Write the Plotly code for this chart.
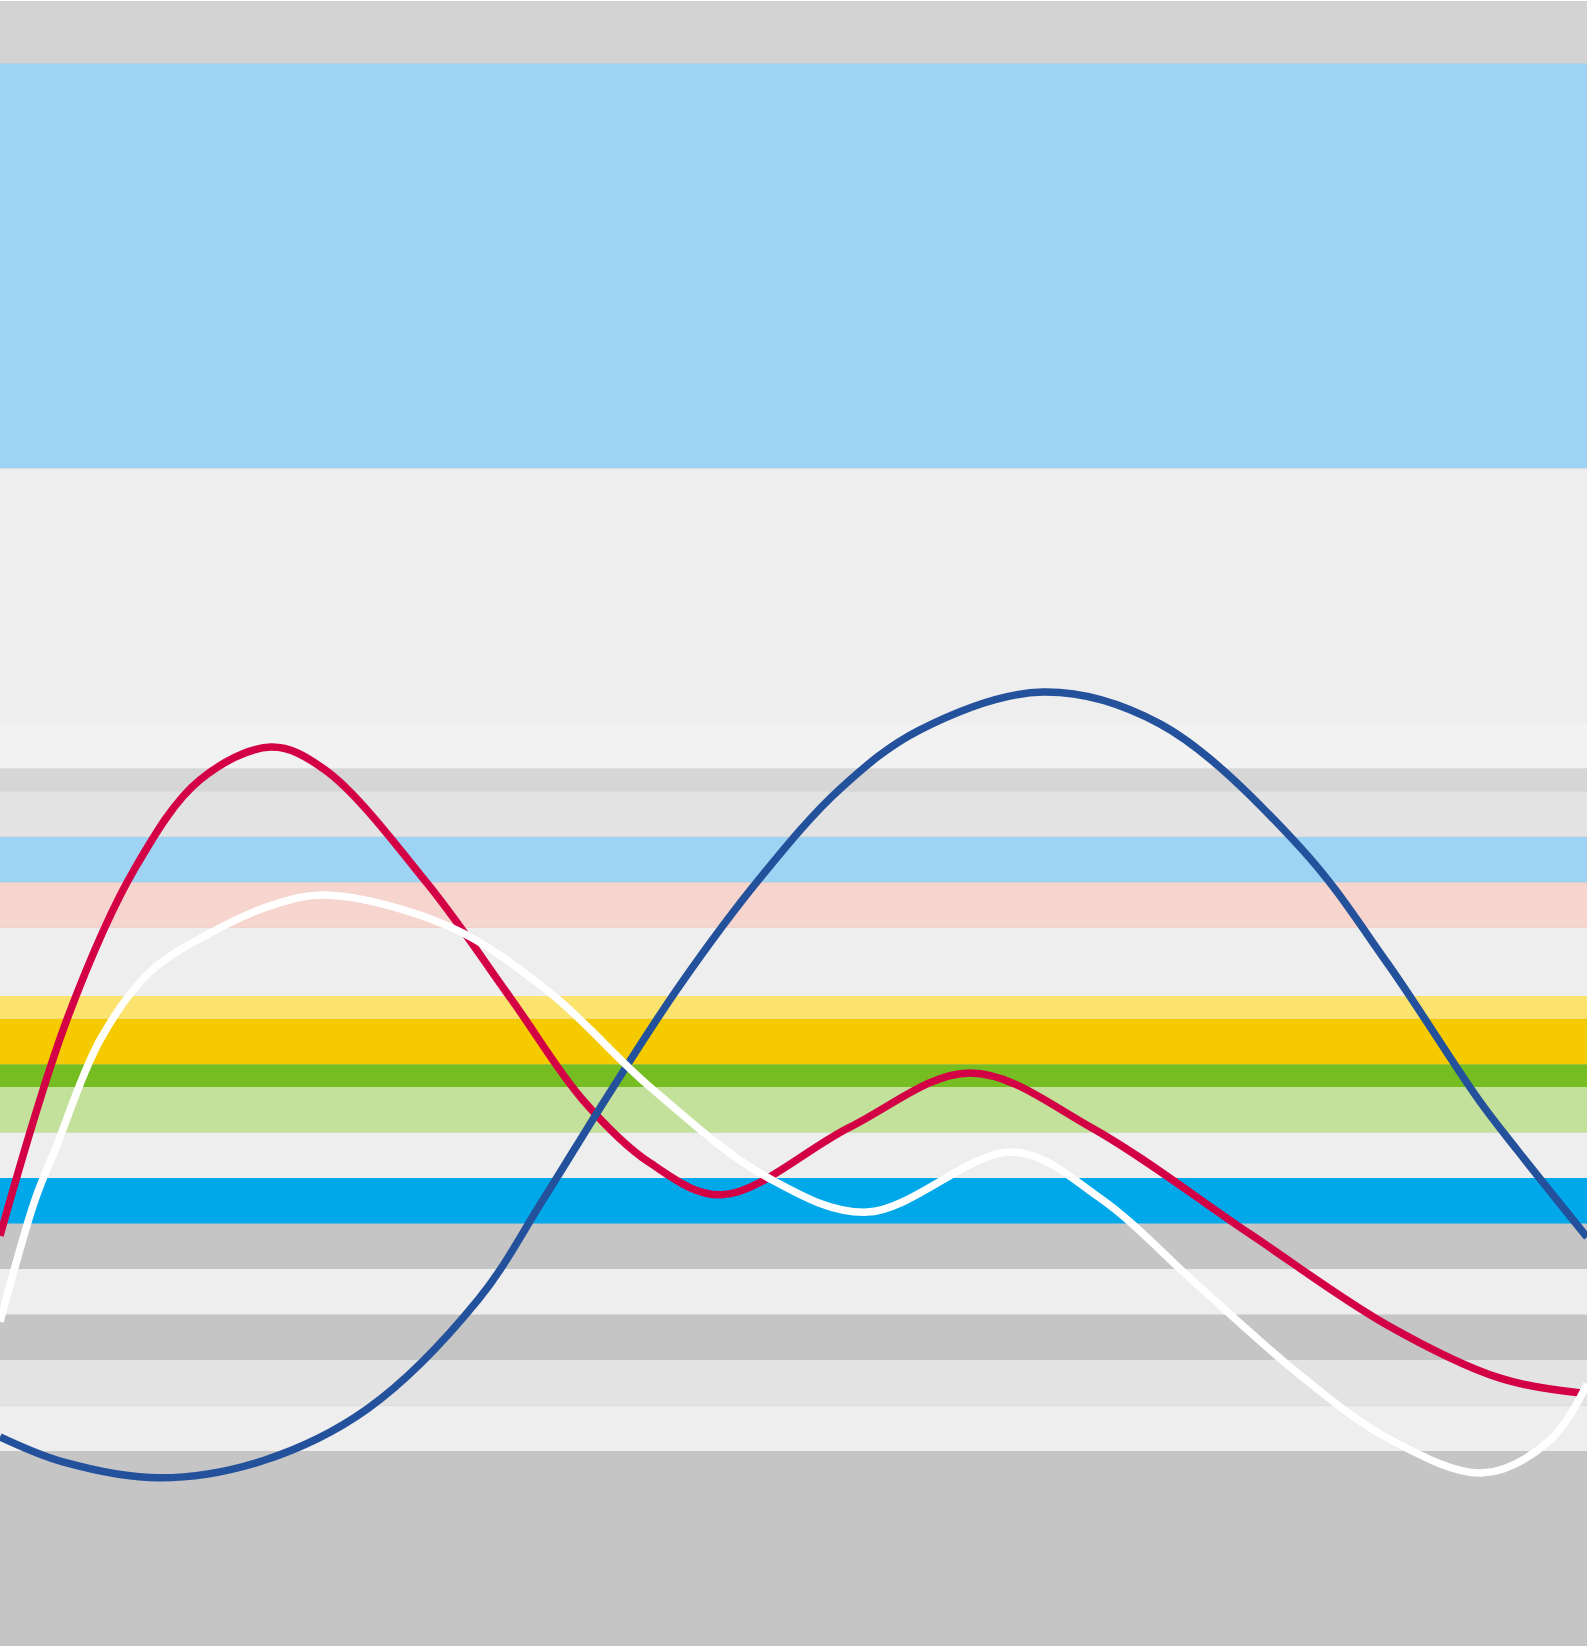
import plotly.graph_objects as go

# ---- data ----
red_x = [0.00, 4.28, 8.51, 12.60, 17.08, 20.48, 26.91, 32.26, 36.74, 40.96, 45.49,
         53.56, 61.12, 68.81, 78.76, 87.40, 94.52, 99.75]
red_y = [4.73, 9.54, 12.81, 14.75, 15.47, 14.97, 12.48, 9.91, 7.71, 6.33, 5.63,
         7.12, 8.31, 7.10, 4.77, 2.77, 1.60, 1.27]

blue_x = [0.00, 3.97, 10.08, 16.51, 23.13, 30.12, 34.22, 38.12, 42.85, 47.89, 52.93,
          57.97, 65.72, 73.09, 81.92, 87.40, 93.19, 95.59, 100.0]
blue_y = [0.31, -0.24, -0.59, -0.22, 0.92, 3.32, 5.52, 7.71, 10.24, 12.59, 14.55,
          15.85, 16.68, 15.98, 13.27, 10.73, 7.71, 6.62, 4.70]

white_x = [0.00, 2.21, 3.47, 6.30, 9.45, 13.23, 17.01, 20.60, 28.36, 34.66, 40.96,
           48.33, 54.63, 63.83, 69.31, 75.61, 81.92, 87.40, 93.45, 97.67, 100.0]
white_y = [2.84, 5.52, 6.62, 9.03, 10.53, 11.38, 11.98, 12.22, 11.52, 10.07, 8.00,
           6.02, 5.25, 6.57, 5.56, 3.60, 1.67, 0.29, -0.48, 0.24, 1.47]

# background bands: (lower, upper, colour)
band_lo = [-10, 0, 1, 2, 3, 4, 5, 6, 7, 8, 8.5, 9.5, 10, 11.5, 12.5, 13.5, 14.5, 15, 16, 21.6, 30.5]
band_hi = [0, 1, 2, 3, 4, 5, 6, 7, 8, 8.5, 9.5, 10, 11.5, 12.5, 13.5, 14.5, 15, 16, 21.6, 30.5, 40]
band_col = ["#c5c5c5", "#eeeeee", "#e3e3e3", "#c5c5c5", "#eeeeee", "#c5c5c5", "#00a8ea",
            "#eeeeee", "#c4e19b", "#75bd21", "#f5cb00", "#fce36e", "#eeeeee", "#f6d5ce",
            "#9ed3f4", "#e3e3e3", "#d6d6d6", "#f2f2f2", "#eeeeee", "#9ed3f4", "#d3d3d3"]

fig = go.Figure()

for lo, hi, c in zip(band_lo, band_hi, band_col):
    fig.add_shape(type="rect", xref="paper", yref="y", x0=0, x1=1, y0=lo, y1=hi,
                  fillcolor=c, line_width=0, layer="below")

LW = 7.5
fig.add_trace(go.Scatter(x=red_x, y=red_y, mode="lines",
                         line=dict(color="#d40045", width=LW, shape="spline", smoothing=1.0)))
fig.add_trace(go.Scatter(x=blue_x, y=blue_y, mode="lines",
                         line=dict(color="#24519b", width=LW, shape="spline", smoothing=1.0)))
fig.add_trace(go.Scatter(x=white_x, y=white_y, mode="lines",
                         line=dict(color="#ffffff", width=LW, shape="spline", smoothing=1.0)))

fig.update_layout(
    width=1587, height=1646,
    margin=dict(l=0, r=0, t=1, b=0),
    paper_bgcolor="#ffffff",
    plot_bgcolor="#c5c5c5",
    showlegend=False,
    hovermode=False,
    xaxis=dict(range=[0, 100], visible=False, showgrid=False, zeroline=False, fixedrange=True),
    yaxis=dict(range=[-4.286, 31.868], visible=False, showgrid=False, zeroline=False, fixedrange=True),
)

fig.write_html("out.html", config={"displayModeBar": False},
               post_script="document.body.style.margin='0';document.body.style.padding='0';")
